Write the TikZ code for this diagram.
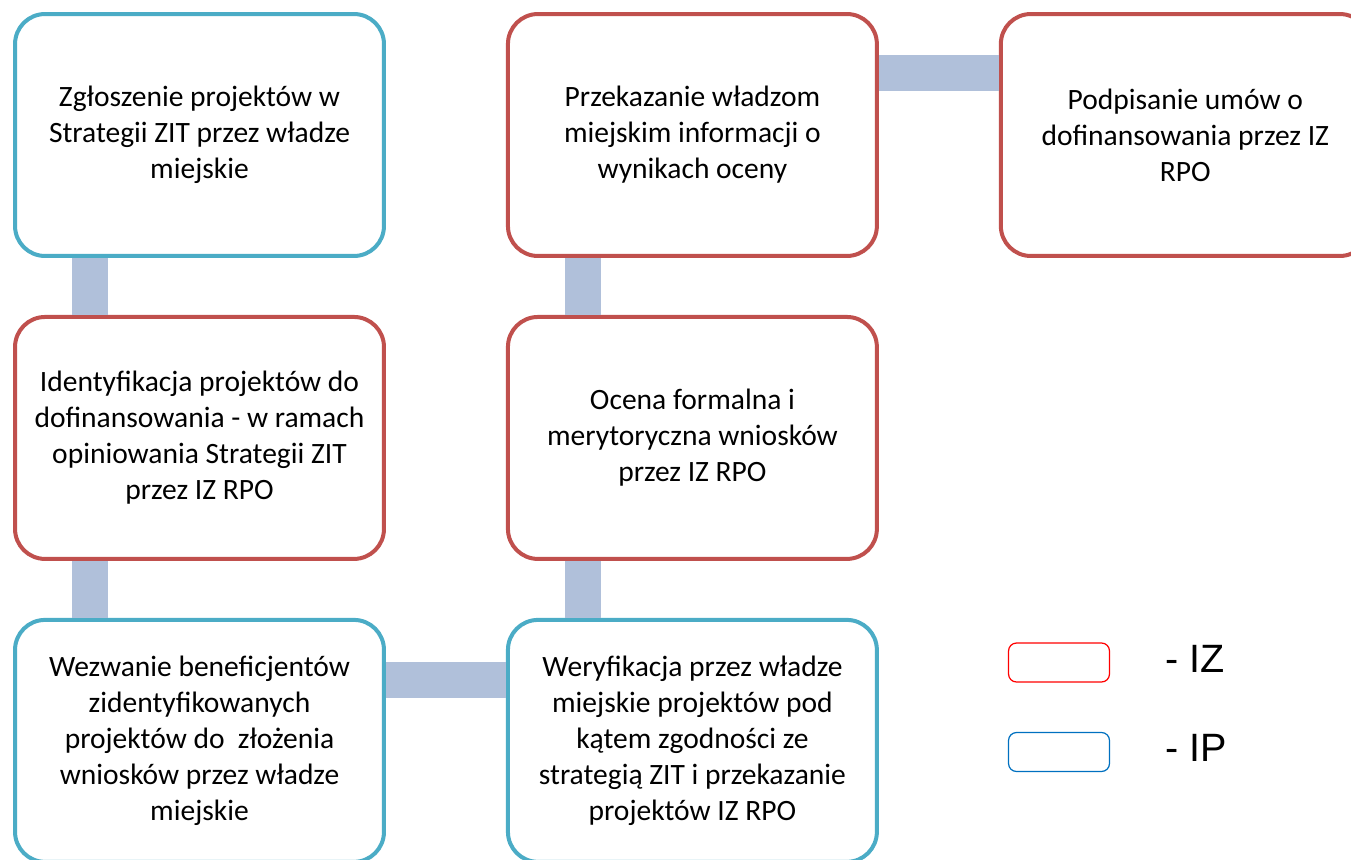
\documentclass[tikz,border=0pt]{standalone}
\usepackage{fontspec}
\setmainfont{Carlito}
\newfontfamily\legfont{Liberation Sans}
\usetikzlibrary{positioning}

\definecolor{izred}{RGB}{192,80,77}
\definecolor{ipblue}{RGB}{75,172,198}
\definecolor{linkblue}{RGB}{176,192,218}
\definecolor{legred}{RGB}{255,0,0}
\definecolor{legblue}{RGB}{0,112,192}

\begin{document}
\begin{tikzpicture}[x=0.02cm, y=-0.02cm, node distance=1.14cm and 2.4cm]
    % Style
    \tikzstyle{box}=[rectangle, rounded corners=0.6cm, line width=0.08cm, fill=white, minimum width=7.38cm, minimum height=4.84cm, align=center, inner sep=0pt, font=\fontsize{16.8}{20.5}\selectfont]
    \tikzstyle{iz}=[box, draw=izred]
    \tikzstyle{ip}=[box, draw=ipblue]
    \tikzstyle{lacznik}=[draw=linkblue, line width=0.72cm]
    \tikzstyle{legbox}=[rectangle, rounded corners=0.16cm, line width=0.7pt, minimum width=2.02cm, minimum height=0.78cm]
    \tikzstyle{legtxt}=[inner sep=0pt, font=\legfont\fontsize{22.5}{27}\selectfont]

    \useasboundingbox (0,0) rectangle (1351,859);
    \clip (0,0) rectangle (1351,859);

    % Etapy (Wezly)
    \node[ip] (zgl) at (199.5,135) {Zgłoszenie projektów w\\Strategii ZIT przez władze\\miejskie};
    \node[iz] (ident) [below=of zgl] {Identyfikacja projektów do\\dofinansowania - w ramach\\opiniowania Strategii ZIT\\przez IZ RPO};
    \node[ip] (wezw) [below=of ident] {Wezwanie beneficjentów\\zidentyfikowanych\\projektów do\ \ złożenia\\wniosków przez władze\\miejskie};
    \node[ip] (weryf) [right=of wezw] {Weryfikacja przez władze\\miejskie projektów pod\\kątem zgodności ze\\strategią ZIT i przekazanie\\projektów IZ RPO};
    \node[iz] (ocena) [above=of weryf] {Ocena formalna i\\merytoryczna wniosków\\przez IZ RPO};
    \node[iz] (przek) [above=of ocena] {Przekazanie władzom\\miejskim informacji o\\wynikach oceny};
    \node[iz] (podp) [right=of przek] {Podpisanie umów o\\dofinansowania przez IZ\\RPO};

    % Laczniki
    \draw[lacznik] ([xshift=1.54cm]zgl.south west) -- ([xshift=1.54cm]ident.north west);
    \draw[lacznik] ([xshift=1.54cm]ident.south west) -- ([xshift=1.54cm]wezw.north west);
    \draw[lacznik] ([yshift=-1.24cm]wezw.north east) -- ([yshift=-1.24cm]weryf.north west);
    \draw[lacznik] ([xshift=1.54cm]weryf.north west) -- ([xshift=1.54cm]ocena.south west);
    \draw[lacznik] ([xshift=1.54cm]ocena.north west) -- ([xshift=1.54cm]przek.south west);
    \draw[lacznik] ([yshift=-1.22cm]przek.north east) -- ([yshift=-1.22cm]podp.north west);

    % Legenda
    \node[legbox, draw=legred] (lz) at (1059,662.5) {};
    \node[legbox, draw=legblue] (lp) at (1059,752) {};
    \node[legtxt] (tz) [right=1.1cm of lz, yshift=0.08cm] {- IZ};
    \node[legtxt] (tp) [right=1.1cm of lp, yshift=0.08cm] {- IP};

\end{tikzpicture}
\end{document}
